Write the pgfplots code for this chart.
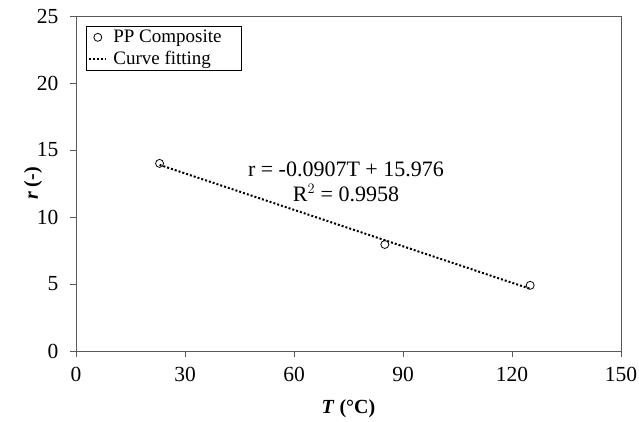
\documentclass[border=0pt]{standalone}
\usepackage{fontspec}
\setmainfont{Liberation Serif}
\usepackage{pgfplots}
\pgfplotsset{compat=1.18}
\definecolor{axgray}{HTML}{595959}
\begin{document}
\begin{tikzpicture}[x=1pt,y=1pt]
\useasboundingbox (-76pt,-70pt) rectangle (563pt,351pt);
\begin{axis}[
  at={(0,0)}, anchor=south west,
  scale only axis, width=545pt, height=335pt,
  xmin=0, xmax=150, ymin=0, ymax=25,
  xtick={0,30,60,90,120,150}, ytick={0,5,10,15,20,25},
  tick align=outside, tick pos=left,
  major tick length=6pt,
  axis line style={axgray, line width=1pt},
  every tick/.style={axgray, line width=1pt},
  /pgf/number format/assume math mode=true,
  tick label style={font=\fontsize{21.5}{24}\selectfont, black},
  xticklabel style={yshift=-7pt},
  yticklabel style={xshift=-8pt},
  xlabel={\textbf{\textit{T} (°C)}},
  ylabel={\textbf{\textit{r} (-)}},
  label style={font=\fontsize{20}{24}\selectfont},
  xlabel style={yshift=-11pt},
  ylabel style={yshift=-12pt},
  clip=false,
  legend style={at={(rel axis cs:0,1)}, anchor=north west, xshift=10pt, yshift=-10pt,
    draw=black, line width=0.6pt, font=\fontsize{19}{21}\selectfont,
    inner sep=2pt, row sep=3pt, cells={anchor=west}},
  legend cell align=left,
]
\addplot[only marks, mark=o, mark size=4pt, black, line width=0.8pt]
  coordinates {(23,14.0) (85,7.95) (125,4.9)};
\addlegendentry{\hspace*{4pt}PP Composite}
\addplot[black, dotted, line width=2pt, no marks]
  coordinates {(23,13.89) (125,4.64)};
\addlegendentry{\hspace*{4pt}Curve fitting\rule{26pt}{0pt}}
\node[align=center, font=\fontsize{22}{25}\selectfont] at (axis cs:74.3,12.65)
  {r = -0.0907T + 15.976\\R$^2$ = 0.9958};
\end{axis}
\end{tikzpicture}
\end{document}
